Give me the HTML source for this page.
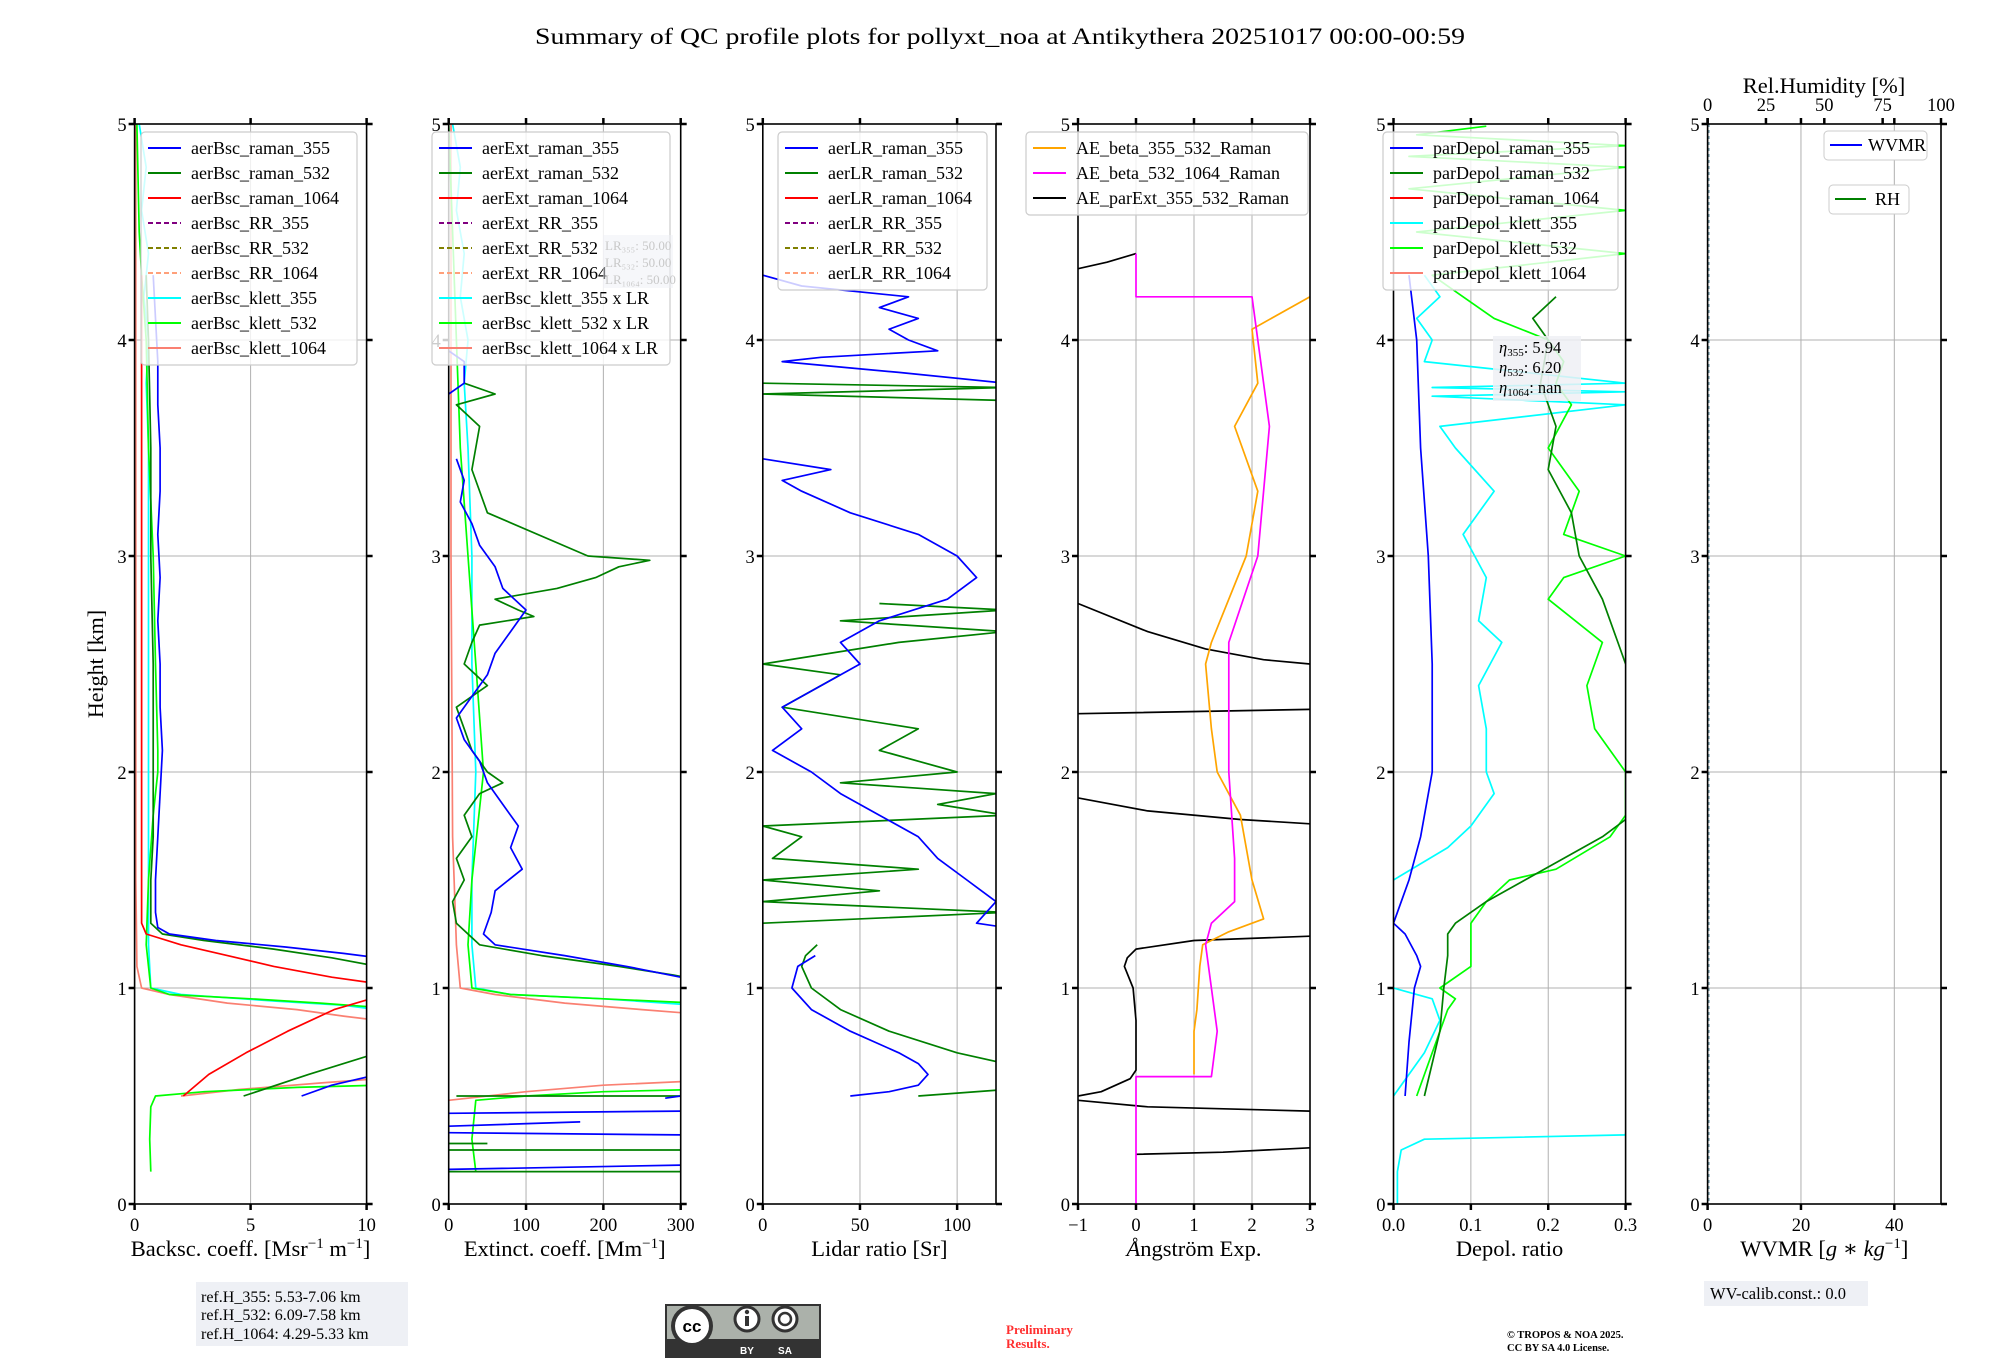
<!DOCTYPE html>
<html><head><meta charset="utf-8"><style>
html,body{margin:0;padding:0;background:#fff;}
svg{display:block;font-family:"Liberation Serif","DejaVu Serif",serif;}
</style></head><body>
<svg id="fig" width="2000" height="1360" viewBox="0 0 2000 1360" xmlns="http://www.w3.org/2000/svg">
<text x="1000" y="44" text-anchor="middle" font-size="23" textLength="930" lengthAdjust="spacingAndGlyphs">Summary of QC profile plots for pollyxt_noa at Antikythera 20251017 00:00-00:59</text>
<text transform="translate(103,664) rotate(-90)" text-anchor="middle" font-size="22">Height [km]</text>
<g id="plots"></g>
<g>
<rect x="196" y="1282" width="212" height="64" fill="#eef0f5"/>
<text x="201" y="1302" font-size="16">ref.H_355: 5.53-7.06 km</text>
<text x="201" y="1320" font-size="16">ref.H_532: 6.09-7.58 km</text>
<text x="201" y="1339" font-size="16">ref.H_1064: 4.29-5.33 km</text>
</g>
<g>
<rect x="665" y="1304" width="156" height="54" fill="#333"/>
<rect x="667" y="1306" width="152" height="33" fill="#abb1aa"/>
<circle cx="692" cy="1326" r="21" fill="#333"/><circle cx="692" cy="1326" r="17" fill="#fff"/>
<text x="692" y="1332" text-anchor="middle" font-size="17" font-weight="bold" font-family="Liberation Sans,sans-serif">cc</text>
<circle cx="747" cy="1319" r="12" fill="#fff" stroke="#333" stroke-width="3"/>
<circle cx="785" cy="1319" r="12" fill="#fff" stroke="#333" stroke-width="3"/>
<rect x="745" y="1316" width="4" height="10" fill="#333"/><circle cx="747" cy="1312" r="2.2" fill="#333"/>
<circle cx="785" cy="1319" r="6" fill="none" stroke="#333" stroke-width="2.5"/>
<text x="747" y="1354" text-anchor="middle" font-size="10" fill="#fff" font-family="Liberation Sans,sans-serif" font-weight="bold">BY</text>
<text x="785" y="1354" text-anchor="middle" font-size="10" fill="#fff" font-family="Liberation Sans,sans-serif" font-weight="bold">SA</text>
</g>
<text x="1006" y="1334" font-size="13" font-weight="bold" fill="#ff3030">Preliminary</text>
<text x="1006" y="1348" font-size="13" font-weight="bold" fill="#ff3030">Results.</text>
<text x="1507" y="1338" font-size="10.5" font-weight="bold">© TROPOS &amp; NOA 2025.</text>
<text x="1507" y="1351" font-size="10.5" font-weight="bold">CC BY SA 4.0 License.</text>
<g>
<rect x="1704" y="1281" width="164" height="25" fill="#eef0f5"/>
<text x="1710" y="1299" font-size="16.5">WV-calib.const.: 0.0</text>
</g>
</svg>
<script>
const N = NaN;
// ---- Panel 1: backscatter ----
const bsc355_h=[4.3,4.1,3.9,3.7,3.5,3.3,3.1,2.9,2.7,2.5,2.3,2.1,1.9,1.7,1.5,1.35,1.28,1.25,1.22,1.19,1.16,1.14,N,0.5,0.55,0.6];
const bsc355_v=[0.8,0.9,1.0,1.0,1.1,1.1,1.0,1.1,1.0,1.1,1.1,1.2,1.1,1.0,0.9,0.9,1.0,1.5,3.5,6.5,9,10.5,N,7.2,8.5,10.5];
const bsc532_h=[4.3,4.0,3.5,3.0,2.5,2.0,1.7,1.5,1.3,1.25,1.22,1.18,1.14,1.10,N,0.5,0.6,0.7];
const bsc532_v=[0.5,0.6,0.7,0.7,0.8,0.8,0.8,0.7,0.7,1.2,3,6,8.5,10.5,N,4.7,7.5,10.5];
const bsc1064_h=[4.3,4.0,3.0,2.0,1.5,1.3,1.25,1.2,1.15,1.1,1.05,1.02,N,0.5,0.6,0.7,0.8,0.9,0.96];
const bsc1064_v=[0.3,0.3,0.3,0.3,0.3,0.3,0.5,2,4,6,8.5,10.5,N,2.1,3.2,4.8,6.6,8.6,10.5];
const bsck355_h=[5,4.8,4.6,4.4,4.2,4.0,3.8,3.5,3.0,2.5,2.0,1.5,1.2,1.0,0.97,0.94,0.92,0.9];
const bsck355_v=[0.2,0.5,0.3,0.6,0.4,0.6,0.5,0.6,0.6,0.6,0.6,0.6,0.6,0.7,2,6,9,10.5];
const bsck532_h=[5,4.5,4.3,4.0,3.5,3.0,2.5,2.1,2.0,1.8,1.5,1.2,1.0,0.97,0.95,0.93,0.91,N,0.15,0.3,0.45,0.5,0.52,0.54,0.55];
const bsck532_v=[0.1,0.2,0.3,0.5,0.6,0.8,0.9,1.0,1.0,0.8,0.6,0.5,0.7,1.5,5,8,10.5,N,0.7,0.65,0.7,0.9,3,7,10.5];
const bsck1064_h=[5,4,3,2,1.5,1.1,1.0,0.97,0.93,0.9,0.87,0.85,N,0.5,0.53,0.56,0.58];
const bsck1064_v=[0.05,0.05,0.05,0.05,0.05,0.1,0.3,1.5,4,7,9,10.5,N,2.0,4.5,8,10.5];
// ---- Panel 2: extinction ----
const ext355_h=[3.95,3.9,3.8,3.75,N,3.45,3.35,3.25,3.15,3.05,2.95,2.85,2.75,2.65,2.55,2.45,2.35,2.25,2.15,2.05,1.95,1.85,1.75,1.65,1.55,1.45,1.35,1.25,1.2,1.15,1.1,1.05,1.02,N,0.42,0.43,N,0.36,0.38,N,0.33,0.32,N,0.16,0.18,N,0.49,0.5];
const ext355_v=[0,20,20,0,N,10,20,15,30,40,60,70,100,80,60,50,30,10,20,40,50,70,90,80,95,60,55,45,60,150,230,300,320,N,0,300,N,0,170,N,0,300,N,0,300,N,280,300];
const ext532_h=[3.8,3.75,3.7,3.6,3.4,3.2,3.0,2.98,2.95,2.9,2.85,2.8,2.75,2.72,2.68,2.6,2.5,2.4,2.3,2.2,2.1,2.0,1.95,1.9,1.8,1.7,1.6,1.5,1.4,1.3,1.2,1.15,1.1,1.06,1.04,N,0.5,0.5,N,0.28,0.28,N,0.25,0.25,N,0.15,0.15];
const ext532_v=[20,60,10,40,30,50,180,260,220,190,140,60,90,110,40,30,20,50,10,20,30,50,70,40,20,30,10,20,5,10,40,120,220,290,320,N,10,300,N,0,50,N,0,300,N,0,300];
const extk355_h=[5,4.8,4.6,4.4,4.2,4.0,3.8,3.5,3.0,2.5,2.0,1.5,1.2,1.0,0.97,0.95,0.93,0.92];
const extk355_v=[5,15,10,20,15,25,20,25,30,30,35,30,30,35,80,200,280,320];
const extk532_h=[5,4.5,4.0,3.5,3.0,2.5,2.0,1.5,1.2,1.0,0.97,0.95,0.93,N,0.15,0.3,0.48,0.5,0.52,0.53];
const extk532_v=[0,5,10,15,25,35,45,30,25,30,80,200,320,N,35,30,35,100,200,320];
const extk1064_h=[5,3,1.7,1.2,1.0,0.97,0.93,0.9,0.88,N,0.48,0.52,0.55,0.57];
const extk1064_v=[3,3,5,10,15,60,150,250,320,N,0,100,200,320];
// ---- Panel 3: lidar ratio ----
const lr355_h=[4.3,4.25,4.2,4.15,4.1,4.05,4.0,3.95,3.92,3.9,3.85,3.8,N,3.45,3.4,3.35,3.3,3.2,3.1,3.0,2.9,2.8,2.7,2.6,2.5,2.4,2.3,2.2,2.1,2.0,1.9,1.8,1.7,1.6,1.5,1.4,1.3,1.28,N,1.15,1.1,1.0,0.9,0.8,0.7,0.65,0.6,0.55,0.52,0.5];
const lr355_v=[0,20,75,60,80,65,75,90,30,10,70,125,N,0,35,10,20,45,80,100,110,95,60,40,50,30,10,20,5,25,40,60,80,90,105,120,110,125,N,27,18,15,25,45,70,80,85,80,65,45];
const lr532_h=[3.8,3.78,3.75,3.72,N,2.78,2.75,2.7,2.65,2.6,2.5,2.45,2.3,2.2,2.1,2.0,1.95,1.9,1.85,1.8,1.75,1.7,1.6,1.55,1.5,1.45,1.4,1.35,1.3,N,1.2,1.15,1.1,1.0,0.9,0.8,0.7,0.65,N,0.5,0.53];
const lr532_v=[0,125,0,125,N,60,125,40,125,70,0,40,10,80,60,100,40,120,90,125,0,20,5,80,0,60,0,125,0,N,28,22,20,25,40,65,100,125,N,80,125];
// ---- Panel 4: Angstroem ----
const ae1_h=[4.2,4.05,3.8,3.6,3.3,3.0,2.6,2.5,2.2,2.0,1.8,1.5,1.32,1.26,1.2,1.1,0.9,0.8,0.6];
const ae1_v=[3.0,2.0,2.1,1.7,2.1,1.9,1.3,1.2,1.3,1.4,1.8,2.0,2.2,1.6,1.15,1.1,1.05,1.0,1.0];
const ae2_h=[4.4,4.2,4.2,4.0,3.6,3.0,2.6,2.0,1.6,1.4,1.3,1.2,1.0,0.8,0.59,0.59,0.0];
const ae2_v=[0,0,2.0,2.1,2.3,2.1,1.6,1.6,1.7,1.7,1.3,1.2,1.3,1.4,1.3,0,0];
const ae3_h=[4.4,4.36,4.33,N,2.78,2.65,2.57,2.52,2.5,N,2.27,2.29,N,1.88,1.82,1.78,1.76,N,1.24,1.22,1.18,1.14,1.1,1.0,0.85,0.62,0.58,0.52,0.5,N,0.48,0.45,0.43,N,0.23,0.24,0.26];
const ae3_v=[0,-0.5,-1,N,-1,0.2,1.2,2.2,3,N,-1,3,N,-1,0.2,1.8,3,N,3,1,0,-0.15,-0.2,-0.05,0,0,-0.1,-0.6,-1,N,-1,0.2,3,N,0,1.5,3];
// ---- Panel 5: depol ----
const dp355_h=[4.3,4.0,3.5,3.0,2.5,2.0,1.7,1.5,1.3,1.25,1.15,1.1,1.0,0.75,0.5];
const dp355_v=[0.02,0.03,0.035,0.045,0.05,0.05,0.035,0.02,0.0,0.015,0.03,0.035,0.027,0.02,0.015];
const dp532_h=[4.2,4.1,4.0,3.8,3.6,3.4,3.2,3.0,2.8,2.6,2.5,N,1.78,1.7,1.6,1.5,1.4,1.3,1.25,1.15,1.0,0.8,0.5];
const dp532_v=[0.21,0.18,0.2,0.19,0.21,0.2,0.23,0.24,0.27,0.29,0.3,N,0.3,0.27,0.22,0.17,0.12,0.08,0.07,0.07,0.065,0.06,0.04];
const dpk355_h=[4.3,4.2,4.1,4.0,3.9,3.8,3.78,3.76,3.74,3.7,3.6,3.5,3.3,3.1,2.9,2.7,2.6,2.4,2.2,2.0,1.9,1.75,1.65,1.5,N,1.0,0.95,0.85,0.7,0.5,N,0.33,0.32,0.3,0.25,0.15,0.0];
const dpk355_v=[0.04,0.06,0.03,0.05,0.04,0.3,0.05,0.3,0.05,0.3,0.06,0.08,0.13,0.09,0.12,0.11,0.14,0.11,0.12,0.12,0.13,0.1,0.07,0.0,N,0.0,0.05,0.06,0.04,0.0,N,0.3,0.3,0.04,0.01,0.005,0.005];
const dpk532_h=[4.99,4.95,4.9,4.85,4.8,4.7,4.6,4.5,4.4,4.3,4.2,4.1,4.0,3.9,3.8,3.7,3.5,3.3,3.1,3.0,2.9,2.8,2.6,2.4,2.2,2.0,1.8,1.7,1.55,1.5,1.4,1.3,1.1,1.0,0.95,0.9,0.7,0.5];
const dpk532_v=[0.12,0.03,0.3,0.02,0.3,0.02,0.3,0.03,0.3,0.05,0.09,0.13,0.2,0.22,0.21,0.23,0.2,0.24,0.22,0.3,0.22,0.2,0.27,0.25,0.26,0.3,0.3,0.28,0.21,0.15,0.12,0.1,0.1,0.06,0.08,0.07,0.05,0.03];
// ---- axes ----
const p1_ticks=[0,5,10], p2_ticks=[0,100,200,300], p3_ticks=[0,50,100], p4_ticks=[-1,0,1,2,3];
const p5_ticks=[0.0,0.1,0.2,0.3], p5_labels=["0.0","0.1","0.2","0.3"], p6_ticks=[0,20,40], rh_ticks=[0,25,50,75,100];
const h_ticks=[0,1,2,3,4,5];

const NS="http://www.w3.org/2000/svg";
const root=document.getElementById('plots');
const Y0=1204, Y1=124;
function yS(h){return Y0-(h/5)*(Y0-Y1);}
function mk(tag,attrs,parent){const e=document.createElementNS(NS,tag);for(const k in attrs)e.setAttribute(k,attrs[k]);(parent||root).appendChild(e);return e;}
function axisFn(x0,x1,min,max){return v=>x0+(v-min)/(max-min)*(x1-x0);}

function panel(id,x0,x1,min,max,ticks,labels,xlabel,xlw){
  const g=mk('g',{});
  
  
  const xs=axisFn(x0,x1,min,max);
  const cp=mk('clipPath',{id:'cp-'+id},g);
  mk('rect',{x:x0,y:Y1,width:x1-x0,height:Y0-Y1},cp);
  ticks.forEach(t=>{const l=mk('line',{x1:xs(t),x2:xs(t),y1:Y1,y2:Y0,stroke:'#b0b0b0','stroke-width':1},g);
    });
  [1,2,3,4].forEach(h=>{const l=mk('line',{x1:x0,x2:x1,y1:yS(h),y2:yS(h),stroke:'#b0b0b0','stroke-width':1},g);
    });
  const data=mk('g',{'clip-path':'url(#cp-'+id+')'},g);
  
  
  const frame=mk('rect',{x:x0,y:Y1,width:x1-x0,height:Y0-Y1,fill:'none',stroke:'#000','stroke-width':1.6},g);
  
  ticks.forEach((t,i)=>{
    mk('line',{x1:xs(t),x2:xs(t),y1:Y0,y2:Y0+6,stroke:'#000','stroke-width':2.5},g);
    mk('line',{x1:xs(t),x2:xs(t),y1:Y1,y2:Y1-6,stroke:'#000','stroke-width':2.5},g);
    const tx=mk('text',{x:xs(t),y:Y0+27,'text-anchor':'middle','font-size':18.5},g);
    tx.textContent=labels?labels[i]:(t<0?'\u2212'+(-t):String(t));
    
  });
  h_ticks.forEach(h=>{
    mk('line',{x1:x0-6,x2:x0,y1:yS(h),y2:yS(h),stroke:'#000','stroke-width':2.5},g);
    mk('line',{x1:x1,x2:x1+6,y1:yS(h),y2:yS(h),stroke:'#000','stroke-width':2.5},g);
    const tx=mk('text',{x:x0-8,y:yS(h)+7,'text-anchor':'end','font-size':18.5},g);
    tx.textContent=String(h);
    
  });
  const xl=mk('text',{x:(x0+x1)/2,y:Y0+52,'text-anchor':'middle','font-size':22.5},g);
  xl.innerHTML=xlabel;
  
  return {xs,data,g};
}
function series(P,hs,vs,color,name,w,dash){
  let d='',pen=false;
  for(let i=0;i<hs.length;i++){
    if(isNaN(hs[i])||isNaN(vs[i])){pen=false;continue;}
    d+=(pen?'L':'M')+P.xs(vs[i]).toFixed(1)+' '+yS(hs[i]).toFixed(1);pen=true;
  }
  const p=mk('path',{d:d,fill:'none',stroke:color,'stroke-width':w||1.7,'stroke-linejoin':'round'},P.data);
  if(dash)p.setAttribute('stroke-dasharray',dash);
  
  
}
function legend(P,x,y,w,items,name){
  const g=mk('g',{},P.g);
  
  
  mk('rect',{x:x,y:y,width:w,height:items.length*25+8,rx:4,fill:'rgba(255,255,255,0.8)',stroke:'#cccccc','stroke-width':1.2},g);
  items.forEach((it,i)=>{
    const cy=y+16+i*25;
    const ln=mk('line',{x1:x+7,x2:x+40,y1:cy,y2:cy,stroke:it[1],'stroke-width':2},g);
    if(it[2])ln.setAttribute('stroke-dasharray','5,3');
    const t=mk('text',{x:x+50,y:cy+6,'font-size':18},g);
    t.textContent=it[0];
    
    
  });
}
const C={b:'#0000ff',g:'#008000',r:'#ff0000',pu:'#800080',ol:'#808000',ls:'#ffa07a',c:'#00ffff',l:'#00ff00',s:'#fa8072'};

// Panel 1
const P1=panel('backscatter',134.6,366.6,0,10,p1_ticks,null,'Backsc. coeff. [Msr<tspan dy="-8" font-size="15">\u22121</tspan><tspan dy="8"> m</tspan><tspan dy="-8" font-size="15">\u22121</tspan><tspan dy="8">]</tspan>');
series(P1,bsck1064_h,bsck1064_v,C.s,'aerBsc-klett-1064-line');
series(P1,bsck355_h,bsck355_v,C.c,'aerBsc-klett-355-line');
series(P1,bsck532_h,bsck532_v,C.l,'aerBsc-klett-532-line');
series(P1,bsc1064_h,bsc1064_v,C.r,'aerBsc-raman-1064-line');
series(P1,bsc532_h,bsc532_v,C.g,'aerBsc-raman-532-line');
series(P1,bsc355_h,bsc355_v,C.b,'aerBsc-raman-355-line');
legend(P1,141,132,216,[['aerBsc_raman_355',C.b],['aerBsc_raman_532',C.g],['aerBsc_raman_1064',C.r],['aerBsc_RR_355',C.pu,1],['aerBsc_RR_532',C.ol,1],['aerBsc_RR_1064',C.ls,1],['aerBsc_klett_355',C.c],['aerBsc_klett_532',C.l],['aerBsc_klett_1064',C.s]],'backscatter-legend');

// Panel 2
const P2=panel('extinction',448.7,680.7,0,300,p2_ticks,null,'Extinct. coeff. [Mm<tspan dy="-8" font-size="15">\u22121</tspan><tspan dy="8">]</tspan>');
series(P2,extk1064_h,extk1064_v,C.s,'aerBsc-klett-1064-x-LR-line');
series(P2,extk355_h,extk355_v,C.c,'aerBsc-klett-355-x-LR-line');
series(P2,extk532_h,extk532_v,C.l,'aerBsc-klett-532-x-LR-line');
series(P2,ext532_h,ext532_v,C.g,'aerExt-raman-532-line');
series(P2,ext355_h,ext355_v,C.b,'aerExt-raman-355-line');
legend(P2,432,132,238,[['aerExt_raman_355',C.b],['aerExt_raman_532',C.g],['aerExt_raman_1064',C.r],['aerExt_RR_355',C.pu,1],['aerExt_RR_532',C.ol,1],['aerExt_RR_1064',C.ls,1],['aerBsc_klett_355 x LR',C.c],['aerBsc_klett_532 x LR',C.l],['aerBsc_klett_1064 x LR',C.s]],'extinction-legend');
(function(){const g=mk('g',{},P2.g);
mk('rect',{x:603,y:235,width:70,height:53,fill:'rgba(238,240,245,0.5)'},g);
['LR\u2083\u2085\u2085: 50.00','LR\u2085\u2083\u2082: 50.00','LR\u2081\u2080\u2086\u2084: 50.00'].forEach((s,i)=>{const t=mk('text',{x:605,y:250+i*17,'font-size':13,fill:'#c8c8c8'},g);t.textContent=s;});})();

// Panel 3
const P3=panel('lidar-ratio',762.8,996,0,120,p3_ticks,null,'Lidar ratio [Sr]');
series(P3,lr532_h,lr532_v,C.g,'aerLR-raman-532-line');
series(P3,lr355_h,lr355_v,C.b,'aerLR-raman-355-line');
legend(P3,778,132,209,[['aerLR_raman_355',C.b],['aerLR_raman_532',C.g],['aerLR_raman_1064',C.r],['aerLR_RR_355',C.pu,1],['aerLR_RR_532',C.ol,1],['aerLR_RR_1064',C.ls,1]],'lidar-ratio-legend');

// Panel 4
const P4=panel('angstrom',1078,1310,-1,3,p4_ticks,null,'<tspan font-style="italic">\u00c5</tspan>ngstr\u00f6m Exp.');
series(P4,ae3_h,ae3_v,'#000000','AE-parExt-355-532-line');
series(P4,ae1_h,ae1_v,'#ffa500','AE-beta-355-532-line');
series(P4,ae2_h,ae2_v,'#ff00ff','AE-beta-532-1064-line');
legend(P4,1026,132,282,[['AE_beta_355_532_Raman','#ffa500'],['AE_beta_532_1064_Raman','#ff00ff'],['AE_parExt_355_532_Raman','#000000']],'angstrom-legend');

// Panel 5
const P5=panel('depol',1393.5,1625.6,0,0.3,p5_ticks,p5_labels,'Depol. ratio');
series(P5,dpk355_h,dpk355_v,C.c,'parDepol-klett-355-line');
series(P5,dpk532_h,dpk532_v,C.l,'parDepol-klett-532-line');
series(P5,dp532_h,dp532_v,C.g,'parDepol-raman-532-line');
series(P5,dp355_h,dp355_v,C.b,'parDepol-raman-355-line');
legend(P5,1383,132,235,[['parDepol_raman_355',C.b],['parDepol_raman_532',C.g],['parDepol_raman_1064',C.r],['parDepol_klett_355',C.c],['parDepol_klett_532',C.l],['parDepol_klett_1064',C.s]],'depol-legend');
(function(){const g=mk('g',{},P5.g);
mk('rect',{x:1493,y:336,width:88,height:65,fill:'rgba(238,240,245,0.85)'},g);
[['355','5.94'],['532','6.20'],['1064','nan']].forEach((s,i)=>{const t=mk('text',{x:1499,y:353+i*20,'font-size':16.5},g);
t.innerHTML='<tspan font-style="italic">\u03b7</tspan><tspan font-size="11" dy="3">'+s[0]+'</tspan><tspan dy="-3">: '+s[1]+'</tspan>';});})();

// Panel 6
const P6=panel('wvmr',1707.6,1941,0,50,p6_ticks,null,'WVMR [<tspan font-style="italic">g</tspan> \u2217 <tspan font-style="italic">kg</tspan><tspan dy="-8" font-size="15">\u22121</tspan><tspan dy="8">]</tspan>');
(function(){const xr=axisFn(1707.6,1941,0,100);
rh_ticks.forEach(t=>{const tx=mk('text',{x:xr(t),y:111,'text-anchor':'middle','font-size':18.5},P6.g);tx.textContent=String(t);

mk('line',{x1:xr(t),x2:xr(t),y1:Y1,y2:Y1-6,stroke:'#000','stroke-width':2.5},P6.g);});
const tl=mk('text',{x:1824,y:93,'text-anchor':'middle','font-size':22.5},P6.g);tl.textContent='Rel.Humidity [%]';

mk('line',{x1:1709,x2:1709,y1:Y1,y2:Y0,stroke:'#5a8a9a','stroke-width':1,'stroke-dasharray':'3,3'},P6.data);
const g1=mk('g',{},P6.g);
mk('rect',{x:1824,y:131,width:103,height:29,rx:4,fill:'#fff',stroke:'#ccc'},g1);
mk('line',{x1:1830,x2:1862,y1:145,y2:145,stroke:C.b,'stroke-width':2},g1);
const t1=mk('text',{x:1868,y:151,'font-size':18},g1);t1.textContent='WVMR';
const g2=mk('g',{},P6.g);
mk('rect',{x:1829,y:185,width:80,height:29,rx:4,fill:'#fff',stroke:'#ccc'},g2);
mk('line',{x1:1835,x2:1866,y1:199,y2:199,stroke:C.g,'stroke-width':2},g2);
const t2=mk('text',{x:1875,y:205,'font-size':18},g2);t2.textContent='RH';})();
</script>
</body></html>
